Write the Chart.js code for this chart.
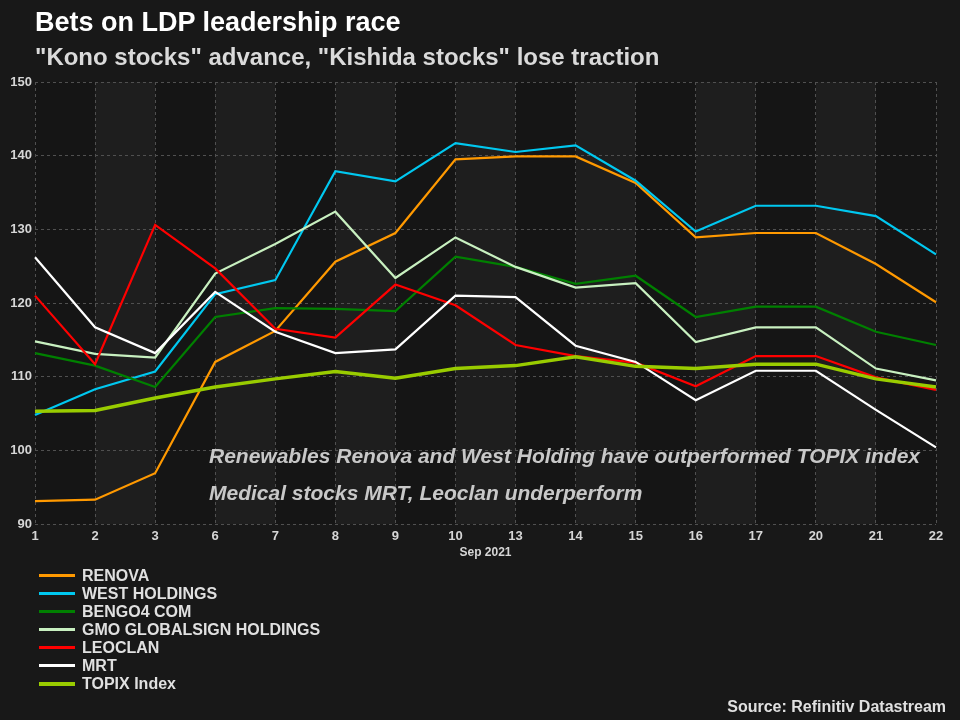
<!DOCTYPE html>
<html><head><meta charset="utf-8">
<script src="https://cdn.jsdelivr.net/npm/chart.js@4/dist/chart.umd.min.js"></script>
<style>
html,body{margin:0;padding:0;background:#181818;}
#wrap{position:relative;width:960px;height:720px;overflow:hidden;font-family:"Liberation Sans",Arial,sans-serif;background:#181818;}
#c{position:absolute;left:0;top:0;}
.t{position:absolute;white-space:nowrap;font-weight:bold;line-height:1;}
.lg{position:absolute;left:0;white-space:nowrap;font-weight:bold;font-size:16px;line-height:1;color:#e0e0e0;}
.lg span.m{position:absolute;left:39px;width:36px;}
.lg span.l{position:absolute;left:82px;}
</style></head>
<body><div id="wrap">
<canvas id="c" width="960" height="720"></canvas>
<div class="t" style="left:35px;top:9px;font-size:27px;color:#ffffff">Bets on LDP leadership race</div>
<div class="t" style="left:35px;top:45px;font-size:24px;color:#dadada">"Kono stocks" advance, "Kishida stocks" lose traction</div>
<div class="t" style="left:209px;top:445px;font-size:21px;font-style:italic;color:#c8c8c8">Renewables Renova and West Holding have outperformed TOPIX index</div>
<div class="t" style="left:209px;top:482px;font-size:21px;font-style:italic;color:#c8c8c8">Medical stocks MRT, Leoclan underperform</div>
<div id="legend"></div>
<div class="t" style="right:14px;top:699px;font-size:16px;color:#e0e0e0">Source: Refinitiv Datastream</div>
</div>
<script>
const categories = ['1','2','3','6','7','8','9','10','13','14','15','16','17','20','21','22'];
const axisTitle = 'Sep 2021';
const yTicks = [90, 100, 110, 120, 130, 140, 150];

const seriesNames = ['RENOVA','WEST HOLDINGS','BENGO4 COM','GMO GLOBALSIGN HOLDINGS','LEOCLAN','MRT','TOPIX Index'];
const renova  = [93.1, 93.3, 96.9, 112.0, 116.2, 125.6, 129.5, 139.5, 139.9, 139.9, 136.3, 128.9, 129.5, 129.5, 125.3, 120.1];
const westHd  = [104.8, 108.3, 110.7, 121.2, 123.1, 137.9, 136.5, 141.7, 140.5, 141.4, 136.6, 129.7, 133.2, 133.2, 131.8, 126.6];
const bengo4  = [113.2, 111.5, 108.6, 118.1, 119.3, 119.2, 118.9, 126.3, 124.9, 122.6, 123.7, 118.1, 119.5, 119.5, 116.1, 114.3];
const gmoGs   = [114.8, 113.1, 112.6, 124.0, 128.0, 132.4, 123.4, 128.9, 124.9, 122.1, 122.7, 114.7, 116.7, 116.7, 111.1, 109.5];
const leoclan = [121.0, 111.7, 130.6, 124.7, 116.5, 115.3, 122.5, 119.7, 114.3, 112.8, 111.9, 108.7, 112.8, 112.8, 109.9, 108.2];
const mrt     = [126.2, 116.7, 113.2, 121.5, 116.1, 113.2, 113.7, 121.0, 120.8, 114.2, 112.0, 106.8, 110.8, 110.8, 105.5, 100.4];
const topix   = [105.3, 105.4, 107.1, 108.6, 109.7, 110.7, 109.8, 111.1, 111.5, 112.7, 111.4, 111.1, 111.7, 111.7, 109.7, 108.6];

const seriesData = [renova, westHd, bengo4, gmoGs, leoclan, mrt, topix];
const colors = ['#ff9900', '#00c8f0', '#008000', '#c8f0c0', '#ff0000', '#ffffff', '#99cc00'];
const widths = [2.2, 2.2, 2.2, 2.2, 2.2, 2.2, 3.5];

// HTML legend
const lg = document.getElementById('legend');
seriesNames.forEach((n, i) => {
  const d = document.createElement('div');
  d.className = 'lg';
  d.style.top = (568 + i * 18.07) + 'px';
  d.style.width = '400px';
  d.style.height = '16px';
  const m = document.createElement('span');
  m.className = 'm';
  const h = i === 6 ? 4 : 3;
  m.style.top = (7.3 - h / 2) + 'px';
  m.style.height = h + 'px';
  m.style.background = colors[i];
  const l = document.createElement('span');
  l.className = 'l';
  l.style.top = '0px';
  l.textContent = n;
  d.appendChild(m); d.appendChild(l);
  lg.appendChild(d);
});

const bandPlugin = {
  id: 'bands',
  beforeDraw(chart) {
    const {ctx, chartArea: {top, bottom, left, right}, scales: {x}} = chart;
    ctx.save();
    ctx.fillStyle = '#151515';
    ctx.fillRect(left, top, right - left, bottom - top);
    ctx.fillStyle = '#1e1e1e';
    for (let i = 1; i < categories.length - 1; i += 2) {
      const x0 = x.getPixelForValue(i), x1 = x.getPixelForValue(i + 1);
      ctx.fillRect(x0, top, x1 - x0, bottom - top);
    }
    ctx.restore();
  }
};

new Chart(document.getElementById('c'), {
  type: 'line',
  data: {
    labels: categories,
    datasets: seriesNames.map((n, i) => ({
      label: n,
      data: seriesData[i],
      borderColor: colors[i],
      backgroundColor: colors[i],
      borderWidth: widths[i],
      pointRadius: 0,
      tension: 0,
      fill: false,
      order: -i
    }))
  },
  options: {
    responsive: false,
    animation: false,
    devicePixelRatio: 1,
    layout: {padding: {top: 82, right: 24, bottom: 156, left: 0}},
    plugins: {legend: {display: false}, tooltip: {enabled: false}, title: {display: false}},
    scales: {
      x: {
        type: 'category',
        offset: false,
        grid: {color: '#505050', lineWidth: 1, drawTicks: false},
        border: {display: false, dash: [3, 3]},
        ticks: {color: '#d6d6d6', font: {family: '"Liberation Sans", Arial, sans-serif', size: 13, weight: 'bold'}, padding: 5, maxRotation: 0, autoSkip: false},
        title: {display: true, text: axisTitle, color: '#d6d6d6', font: {family: '"Liberation Sans", Arial, sans-serif', size: 12, weight: 'bold'}, padding: {top: 0, bottom: 4}},
        afterFit(s) { s.height = 40; }
      },
      y: {
        min: yTicks[0], max: yTicks[yTicks.length - 1],
        afterBuildTicks(s) { s.ticks = yTicks.map(v => ({value: v})); },
        grid: {color: '#505050', lineWidth: 1, drawTicks: false},
        border: {display: false, dash: [3, 3]},
        ticks: {color: '#d6d6d6', font: {family: '"Liberation Sans", Arial, sans-serif', size: 13, weight: 'bold'}, padding: 3},
        afterFit(s) { s.width = 35; }
      }
    }
  },
  plugins: [bandPlugin]
});
</script>
</body></html>
